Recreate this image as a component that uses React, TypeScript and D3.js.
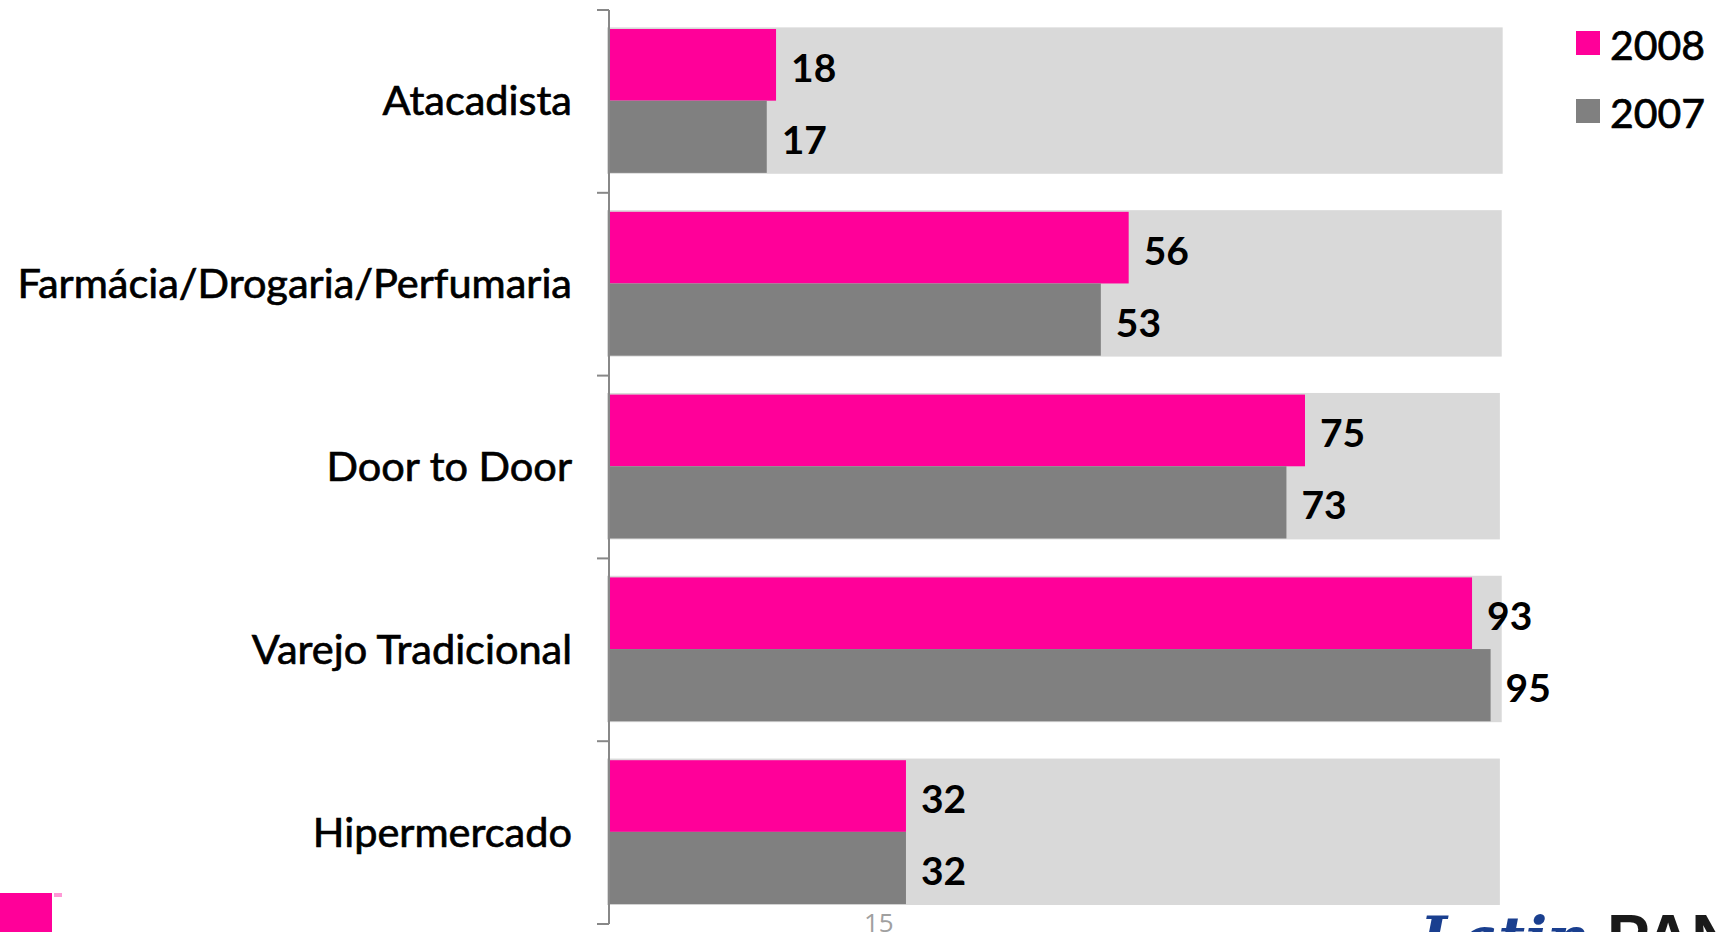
import React from "react";
import * as d3 from "d3";

const categories = ["Atacadista", "Farmácia/Drogaria/Perfumaria", "Door to Door", "Varejo Tradicional", "Hipermercado"];
const values2008 = [18, 56, 75, 93, 32];
const values2007 = [17, 53, 73, 95, 32];
const backgroundValues = [96.3, 96.2, 96.0, 96.2, 96.0];
const legendLabels = ["2008", "2007"];

const PINK = "#ff0099";
const GRAY = "#808080";
const BG = "#d9d9d9";
const LABEL_FONT = "Lato, 'Open Sans', sans-serif";

export default function App() {
  const W = 1724, H = 932;
  const x = d3.scaleLinear().domain([0, 100]).range([609, 1537]);
  const y = d3.scaleBand<string>().domain(categories).range([10, 924]).padding(0);
  const bw = y.bandwidth();
  const ticks = [...categories.map((c) => y(c) as number), 924];

  return (
    <svg width={W} height={H} style={{ position: "absolute", left: 0, top: 0, background: "#fff" }}>
      {categories.map((c, i) => {
        const y0 = y(c) as number;
        const pinkTop = y0 + 0.104 * bw;
        const mid = y0 + 0.496 * bw;
        const grayBot = y0 + 0.891 * bw;
        const pc = (pinkTop + mid) / 2;
        const gc = (mid + grayBot) / 2;
        return (
          <g key={c}>
            <rect x={x(0) - 2} y={y0 + 0.095 * bw} width={x(backgroundValues[i]) - x(0) + 2} height={0.801 * bw} fill={BG} />
            <rect x={x(0)} y={pinkTop} width={x(values2008[i]) - x(0)} height={mid - pinkTop} fill={PINK} />
            <rect x={x(0)} y={mid} width={x(values2007[i]) - x(0)} height={grayBot - mid} fill={GRAY} />
            <text x={x(values2008[i]) + 15} y={pc + 17} fontFamily={LABEL_FONT} fontWeight={700} fontSize={39} fill="#000">
              {values2008[i]}
            </text>
            <text x={x(values2007[i]) + 15} y={gc + 17} fontFamily={LABEL_FONT} fontWeight={700} fontSize={39} fill="#000">
              {values2007[i]}
            </text>
            <text x={572} y={y0 + bw / 2 + 14} textAnchor="end" fontFamily={LABEL_FONT} fontSize={41.5} fill="#000" stroke="#000" strokeWidth={0.7}>
              {c}
            </text>
          </g>
        );
      })}
      {/* axis */}
      <line x1={609} x2={609} y1={10} y2={924} stroke="#888" strokeWidth={2} />
      {ticks.map((t, i) => (
        <line key={i} x1={597} x2={609} y1={t} y2={t} stroke="#888" strokeWidth={2} />
      ))}
      {/* legend */}
      {legendLabels.map((l, i) => (
        <g key={l}>
          <rect x={1576} y={31 + i * 68} width={24} height={24} fill={i === 0 ? PINK : GRAY} />
          <text x={1610} y={60 + i * 68} fontFamily={LABEL_FONT} fontSize={41} fill="#000" stroke="#000" strokeWidth={0.7}>
            {l}
          </text>
        </g>
      ))}
      {/* page decorations */}
      <rect x={0} y={893} width={52} height={39} fill={PINK} />
      <rect x={54} y={893} width={8} height={4} fill={PINK} opacity={0.4} />
      <text x={864} y={932} fontFamily="'Open Sans', sans-serif" fontSize={26} fill="#a0a0a0">15</text>
      <text x={1420} y={958} fontFamily="'DejaVu Serif', serif" fontStyle="italic" fontWeight={700} fontSize={58} fill="#1a3f8f">Latin</text>
      <text x={1607} y={960} fontFamily="'Liberation Sans', sans-serif" fontWeight={700} fontSize={64} fill="#1a1a1a">PAN</text>
    </svg>
  );
}
